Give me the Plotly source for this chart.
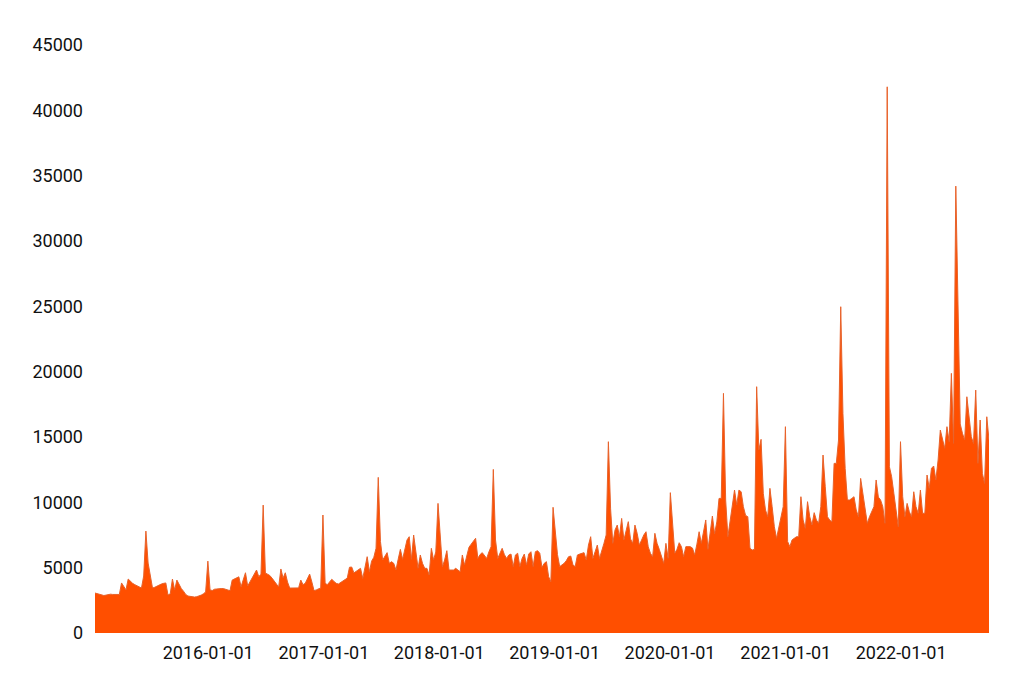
"""Weekly volume area chart, 2015-2022."""

import pandas as pd
import plotly.graph_objects as go


# ---------------------------------------------------------------------------
# Data (weekly values)
# ---------------------------------------------------------------------------

start_date = "2015-01-08"

weekly_values = [
    3060, 3000, 2950, 2900, 2870, 2900, 2950, 2970, 2950, 2960,
    2940, 2950, 3830, 3600, 3300, 4130, 3950, 3800, 3700, 3600,
    3500, 3440, 4360, 7800, 5350, 4400, 3440, 3500, 3600, 3700,
    3750, 3800, 3830, 2900, 3000, 4130, 3290, 4050, 3700, 3400,
    3200, 2950, 2830, 2800, 2780, 2750, 2780, 2830, 2900, 3000,
    3140, 5500, 3300, 3250, 3350, 3370, 3400, 3400, 3400, 3340,
    3300, 3240, 4050, 4150, 4260, 4300, 3540, 4000, 4610, 3600,
    3900, 4300, 4600, 4820, 4310, 4500, 9790, 4590, 4500, 4400,
    4200, 4000, 3800, 3520, 4900, 4200, 4610, 3900, 3440, 3450,
    3450, 3440, 3450, 4050, 3700, 3800, 4200, 4510, 3900, 3240,
    3300, 3400, 3450, 9030, 3800, 3700, 3900, 4110, 3950, 3800,
    3750, 3850, 3950, 4100, 4200, 5030, 5050, 4600, 4700, 4800,
    4950, 4180, 5070, 5840, 4690, 5500, 5790, 6480, 11910, 7000,
    5590, 5900, 6150, 5330, 5460, 5330, 4820, 5640, 6400, 5640,
    6300, 7120, 7370, 5640, 7500, 6350, 4950, 5970, 5330, 4950,
    4950, 4440, 6480, 5590, 6200, 9920, 7000, 5070, 5590, 6300,
    4820, 4820, 4820, 4950, 4820, 4690, 5970, 5200, 5890, 6560,
    6800, 6990, 7250, 5710, 6000, 6150, 5890, 5710, 6200, 6610,
    12520, 7120, 5710, 6100, 6480, 6000, 5710, 5970, 6040, 5080,
    5970, 6100, 5080, 5710, 6040, 5200, 6040, 6220, 5080, 6220,
    6300, 6100, 5020, 5330, 5460, 4310, 3930, 9620, 7880, 6000,
    5080, 5200, 5330, 5540, 5840, 5890, 5200, 5080, 5970, 6040,
    6100, 6150, 5590, 6730, 7370, 5710, 6220, 6730, 5710, 6220,
    6860, 7500, 14640, 9500, 6860, 7880, 8260, 7370, 8770, 7120,
    7800, 8520, 7200, 6860, 8260, 7630, 6730, 7120, 7500, 7750,
    6600, 6100, 5840, 7630, 6860, 6400, 5900, 5330, 6860, 5710,
    10740, 8000, 6100, 6400, 6910, 6610, 5840, 6610, 6610, 6610,
    6500, 5970, 6800, 7750, 6860, 7880, 8650, 6400, 7500, 8950,
    7600, 8500, 10300, 10300, 18340, 10180, 7370, 8500, 9540, 10940,
    9800, 10940, 10810, 9670, 9000, 8900, 6480, 6350, 6400, 18850,
    14000, 14820, 10690, 9410, 8900, 11070, 9670, 8130, 7250, 8000,
    8900, 9670, 15790, 7000, 6610, 7120, 7250, 7370, 7370, 10430,
    8650, 8010, 10050, 8900, 8260, 9210, 8650, 8390, 9670, 13620,
    11190, 8900, 8650, 8500, 12980, 12980, 14770, 24970, 16800, 12600,
    10180, 10180, 10300, 10430, 9410, 8900, 11830, 10690, 9410, 8390,
    8900, 9300, 9670, 11710, 10400, 10180, 9670, 8390, 41800, 12720,
    11960, 10690, 9160, 8130, 14640, 10430, 8900, 9920, 9280, 8900,
    10810, 9670, 9160, 10940, 9160, 9160, 12090, 11070, 12600, 12780,
    11710, 13240, 15530, 14770, 14130, 15790, 14640, 19870, 14510, 34200,
    23600, 16000, 15280, 14770, 18080, 16430, 15020, 14510, 18590, 12980,
    16300, 12220, 11450, 16550, 14770,
]

week_dates = pd.date_range(start_date, periods=len(weekly_values), freq="7D")

y_ticks = [0, 5000, 10000, 15000, 20000, 25000, 30000, 35000, 40000, 45000]
y_tick_labels = [str(v) for v in y_ticks]


# ---------------------------------------------------------------------------
# Figure
# ---------------------------------------------------------------------------

fig = go.Figure()
fig.add_trace(
    go.Scatter(
        x=week_dates,
        y=weekly_values,
        mode="lines",
        fill="tozeroy",
        fillcolor="#FF4F00",
        line=dict(color="#E8622A", width=1),
        hoverinfo="x+y",
    )
)

fig.update_layout(
    width=1008,
    height=683,
    margin=dict(l=87, r=27, t=37, b=58),
    plot_bgcolor="white",
    paper_bgcolor="white",
    showlegend=False,
    font=dict(family="Roboto, sans-serif", size=18, color="#111111"),
    xaxis=dict(
        range=[week_dates[0], week_dates[-1]],
        tick0="2016-01-01",
        dtick="M12",
        tickformat="%Y-%m-%d",
        showgrid=False,
        zeroline=False,
        showline=False,
        ticks="",
        ticklabelstandoff=7,
    ),
    yaxis=dict(
        range=[0, 45000],
        tickvals=y_ticks,
        ticktext=y_tick_labels,
        showgrid=False,
        zeroline=False,
        showline=False,
        ticks="",
        ticklabelstandoff=11,
    ),
)

fig.write_html("out.html")
